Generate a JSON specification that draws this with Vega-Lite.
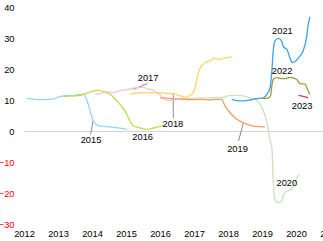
{
  "$schema": "https://vega.github.io/schema/vega-lite/v6.json",
  "width": 306,
  "height": 217,
  "autosize": {"type": "none"},
  "padding": {"left": 24, "top": 7, "right": 0, "bottom": 17},
  "config": {"view": {"stroke": null}, "font": "Liberation Sans", "axis": {"labelFont": "Liberation Sans", "labelFontSize": 9.3}},
  "datasets": {
    "series": [
      {"s": "2015", "x": 2012.08, "y": 10.5}, {"s": "2015", "x": 2012.47, "y": 10.1}, {"s": "2015", "x": 2012.85, "y": 10.3},
      {"s": "2015", "x": 2013.06, "y": 11.1}, {"s": "2015", "x": 2013.3, "y": 11.5}, {"s": "2015", "x": 2013.44, "y": 11.3},
      {"s": "2015", "x": 2013.6, "y": 11.8}, {"s": "2015", "x": 2013.69, "y": 11.6}, {"s": "2015", "x": 2013.74, "y": 12.0},
      {"s": "2015", "x": 2013.84, "y": 10.2}, {"s": "2015", "x": 2013.92, "y": 7.5}, {"s": "2015", "x": 2013.97, "y": 5.4},
      {"s": "2015", "x": 2014.04, "y": 3.2}, {"s": "2015", "x": 2014.12, "y": 2.2}, {"s": "2015", "x": 2014.24, "y": 1.6},
      {"s": "2015", "x": 2014.53, "y": 1.3}, {"s": "2015", "x": 2014.82, "y": 0.9}, {"s": "2015", "x": 2015.03, "y": 0.5},

      {"s": "2016", "x": 2013.16, "y": 11.1}, {"s": "2016", "x": 2013.44, "y": 11.3}, {"s": "2016", "x": 2013.65, "y": 11.5},
      {"s": "2016", "x": 2013.79, "y": 12.0}, {"s": "2016", "x": 2013.99, "y": 12.7}, {"s": "2016", "x": 2014.19, "y": 13.2},
      {"s": "2016", "x": 2014.32, "y": 12.7}, {"s": "2016", "x": 2014.53, "y": 11.9}, {"s": "2016", "x": 2014.73, "y": 9.7},
      {"s": "2016", "x": 2014.82, "y": 8.6}, {"s": "2016", "x": 2014.97, "y": 6.5}, {"s": "2016", "x": 2015.07, "y": 4.3},
      {"s": "2016", "x": 2015.13, "y": 3.0}, {"s": "2016", "x": 2015.21, "y": 1.6}, {"s": "2016", "x": 2015.41, "y": 1.0},
      {"s": "2016", "x": 2015.61, "y": 0.5}, {"s": "2016", "x": 2015.79, "y": 0.9}, {"s": "2016", "x": 2015.94, "y": 1.3},
      {"s": "2016", "x": 2016.09, "y": 1.9},

      {"s": "2017", "x": 2014.09, "y": 12.1}, {"s": "2017", "x": 2014.24, "y": 12.0}, {"s": "2017", "x": 2014.43, "y": 12.7},
      {"s": "2017", "x": 2014.62, "y": 12.4}, {"s": "2017", "x": 2014.82, "y": 13.0}, {"s": "2017", "x": 2015.06, "y": 13.4},
      {"s": "2017", "x": 2015.31, "y": 14.0}, {"s": "2017", "x": 2015.51, "y": 14.1}, {"s": "2017", "x": 2015.65, "y": 13.5},
      {"s": "2017", "x": 2015.8, "y": 13.2}, {"s": "2017", "x": 2015.91, "y": 12.1}, {"s": "2017", "x": 2016.0, "y": 11.6},
      {"s": "2017", "x": 2016.09, "y": 10.6}, {"s": "2017", "x": 2016.2, "y": 9.9}, {"s": "2017", "x": 2016.29, "y": 9.8},
      {"s": "2017", "x": 2016.47, "y": 10.3}, {"s": "2017", "x": 2016.74, "y": 10.6}, {"s": "2017", "x": 2017.03, "y": 10.3},
      {"s": "2017", "x": 2017.18, "y": 10.2},

      {"s": "2018", "x": 2015.12, "y": 11.9}, {"s": "2018", "x": 2015.31, "y": 12.2}, {"s": "2018", "x": 2015.51, "y": 12.4},
      {"s": "2018", "x": 2015.71, "y": 12.4}, {"s": "2018", "x": 2016.0, "y": 12.4}, {"s": "2018", "x": 2016.21, "y": 12.1},
      {"s": "2018", "x": 2016.38, "y": 12.0}, {"s": "2018", "x": 2016.53, "y": 11.6}, {"s": "2018", "x": 2016.68, "y": 11.1},
      {"s": "2018", "x": 2016.76, "y": 10.8}, {"s": "2018", "x": 2016.85, "y": 11.3}, {"s": "2018", "x": 2016.94, "y": 11.9},
      {"s": "2018", "x": 2017.0, "y": 12.9}, {"s": "2018", "x": 2017.06, "y": 15.5}, {"s": "2018", "x": 2017.13, "y": 18.7},
      {"s": "2018", "x": 2017.18, "y": 20.3}, {"s": "2018", "x": 2017.27, "y": 21.5}, {"s": "2018", "x": 2017.37, "y": 22.3},
      {"s": "2018", "x": 2017.47, "y": 22.6}, {"s": "2018", "x": 2017.59, "y": 23.4}, {"s": "2018", "x": 2017.76, "y": 23.1},
      {"s": "2018", "x": 2017.88, "y": 23.5}, {"s": "2018", "x": 2017.97, "y": 23.6}, {"s": "2018", "x": 2018.11, "y": 23.9},

      {"s": "2019", "x": 2016.0, "y": 10.7}, {"s": "2019", "x": 2016.15, "y": 10.6}, {"s": "2019", "x": 2016.38, "y": 10.4},
      {"s": "2019", "x": 2016.59, "y": 10.3}, {"s": "2019", "x": 2016.88, "y": 10.1}, {"s": "2019", "x": 2017.18, "y": 10.2},
      {"s": "2019", "x": 2017.47, "y": 10.0}, {"s": "2019", "x": 2017.65, "y": 10.2}, {"s": "2019", "x": 2017.81, "y": 10.2},
      {"s": "2019", "x": 2017.91, "y": 8.1}, {"s": "2019", "x": 2018.06, "y": 5.9}, {"s": "2019", "x": 2018.26, "y": 3.8},
      {"s": "2019", "x": 2018.5, "y": 2.4}, {"s": "2019", "x": 2018.74, "y": 1.6}, {"s": "2019", "x": 2018.94, "y": 1.4},
      {"s": "2019", "x": 2019.09, "y": 1.3},

      {"s": "2020", "x": 2016.88, "y": 10.5}, {"s": "2020", "x": 2017.18, "y": 10.6}, {"s": "2020", "x": 2017.47, "y": 10.7},
      {"s": "2020", "x": 2017.85, "y": 10.8}, {"s": "2020", "x": 2018.0, "y": 11.3}, {"s": "2020", "x": 2018.15, "y": 11.5},
      {"s": "2020", "x": 2018.35, "y": 11.5}, {"s": "2020", "x": 2018.65, "y": 10.7}, {"s": "2020", "x": 2018.79, "y": 10.2},
      {"s": "2020", "x": 2018.89, "y": 9.5}, {"s": "2020", "x": 2019.04, "y": 6.5}, {"s": "2020", "x": 2019.15, "y": 2.5},
      {"s": "2020", "x": 2019.24, "y": -3.2}, {"s": "2020", "x": 2019.29, "y": -5.4}, {"s": "2020", "x": 2019.33, "y": -16.1},
      {"s": "2020", "x": 2019.38, "y": -22.0}, {"s": "2020", "x": 2019.48, "y": -23.1}, {"s": "2020", "x": 2019.58, "y": -22.6},
      {"s": "2020", "x": 2019.63, "y": -20.6}, {"s": "2020", "x": 2019.73, "y": -19.4}, {"s": "2020", "x": 2019.82, "y": -19.2},
      {"s": "2020", "x": 2019.92, "y": -17.7}, {"s": "2020", "x": 2020.02, "y": -15.2}, {"s": "2020", "x": 2020.1, "y": -14.0},

      {"s": "2021", "x": 2018.11, "y": 10.2}, {"s": "2021", "x": 2018.26, "y": 9.8}, {"s": "2021", "x": 2018.44, "y": 9.7},
      {"s": "2021", "x": 2018.65, "y": 10.0}, {"s": "2021", "x": 2018.82, "y": 10.4}, {"s": "2021", "x": 2019.04, "y": 10.7},
      {"s": "2021", "x": 2019.14, "y": 11.8}, {"s": "2021", "x": 2019.24, "y": 14.0}, {"s": "2021", "x": 2019.29, "y": 19.4},
      {"s": "2021", "x": 2019.33, "y": 25.8}, {"s": "2021", "x": 2019.38, "y": 29.0}, {"s": "2021", "x": 2019.48, "y": 29.9},
      {"s": "2021", "x": 2019.58, "y": 29.0}, {"s": "2021", "x": 2019.63, "y": 27.1}, {"s": "2021", "x": 2019.73, "y": 26.4},
      {"s": "2021", "x": 2019.82, "y": 23.6}, {"s": "2021", "x": 2019.9, "y": 22.1}, {"s": "2021", "x": 2019.97, "y": 22.4},
      {"s": "2021", "x": 2020.12, "y": 24.2}, {"s": "2021", "x": 2020.21, "y": 25.8}, {"s": "2021", "x": 2020.31, "y": 30.1},
      {"s": "2021", "x": 2020.36, "y": 34.4}, {"s": "2021", "x": 2020.41, "y": 36.8},

      {"s": "2022", "x": 2019.0, "y": 10.5}, {"s": "2022", "x": 2019.18, "y": 10.6}, {"s": "2022", "x": 2019.25, "y": 11.3},
      {"s": "2022", "x": 2019.29, "y": 14.5}, {"s": "2022", "x": 2019.33, "y": 16.7}, {"s": "2022", "x": 2019.43, "y": 17.2},
      {"s": "2022", "x": 2019.58, "y": 16.9}, {"s": "2022", "x": 2019.73, "y": 17.0}, {"s": "2022", "x": 2019.82, "y": 17.3},
      {"s": "2022", "x": 2019.92, "y": 17.1}, {"s": "2022", "x": 2020.02, "y": 16.6}, {"s": "2022", "x": 2020.12, "y": 15.3},
      {"s": "2022", "x": 2020.26, "y": 15.1}, {"s": "2022", "x": 2020.36, "y": 12.9}, {"s": "2022", "x": 2020.41, "y": 11.8},

      {"s": "2023", "x": 2020.07, "y": 11.5}, {"s": "2023", "x": 2020.21, "y": 11.2}, {"s": "2023", "x": 2020.36, "y": 10.7}
    ],
    "labels": [
      {"label": "2015", "x": 2013.97, "y": -2.9},
      {"label": "2016", "x": 2015.49, "y": -1.9},
      {"label": "2017", "x": 2015.65, "y": 17.1},
      {"label": "2018", "x": 2016.38, "y": 2.3},
      {"label": "2019", "x": 2018.28, "y": -5.8},
      {"label": "2020", "x": 2019.73, "y": -16.7},
      {"label": "2021", "x": 2019.6, "y": 32.4},
      {"label": "2022", "x": 2019.59, "y": 19.5},
      {"label": "2023", "x": 2020.18, "y": 8.1}
    ],
    "leaders": [
      {"x": 2014.03, "y": 3.2, "x2": 2013.96, "y2": -1.1},
      {"x": 2015.21, "y": 13.4, "x2": 2015.63, "y2": 15.3},
      {"x": 2016.39, "y": 12.3, "x2": 2016.39, "y2": 4.2},
      {"x": 2018.45, "y": 2.6, "x2": 2018.31, "y2": -3.2}
    ]
  },
  "encoding": {
    "x": {
      "field": "x", "type": "quantitative",
      "scale": {"domain": [2012, 2021], "nice": false, "zero": false},
      "axis": {
        "values": [2012, 2013, 2014, 2015, 2016, 2017, 2018, 2019, 2020, 2021],
        "format": "d", "domain": false, "ticks": false, "grid": false,
        "labelPadding": 5, "labelColor": "#000000", "title": null,
        "labelFlush": false, "labelOverlap": false, "labelBound": false
      }
    },
    "y": {
      "field": "y", "type": "quantitative",
      "scale": {"domain": [-30, 40], "nice": false, "zero": false},
      "axis": {
        "values": [-30, -20, -10, 0, 10, 20, 30, 40],
        "domain": false, "ticks": false, "grid": true,
        "gridColor": {"condition": {"test": "datum.value === 0", "value": "#d4d4d4"}, "value": "transparent"},
        "labelPadding": 10, "title": null,
        "labelColor": {"condition": {"test": "datum.value < 0", "value": "#ff0000"}, "value": "#000000"}
      }
    }
  },
  "layer": [
    {
      "data": {"name": "leaders"},
      "mark": {"type": "rule", "color": "#8c8c8c", "strokeWidth": 1},
      "encoding": {"x2": {"field": "x2"}, "y2": {"field": "y2"}}
    },
    {
      "data": {"name": "series"},
      "mark": {"type": "line", "strokeWidth": 1.3, "interpolate": "monotone"},
      "encoding": {
        "color": {
          "field": "s", "type": "nominal", "legend": null,
          "scale": {
            "domain": ["2015", "2016", "2017", "2018", "2019", "2020", "2021", "2022", "2023"],
            "range": ["#94d5f5", "#c6d84e", "#f5c5d2", "#fdd36b", "#f59b66", "#c9e3bd", "#3ba3ea", "#9c9b3e", "#c9416a"]
          }
        }
      }
    },
    {
      "data": {"name": "labels"},
      "mark": {"type": "text", "fontSize": 9.3, "color": "#000000", "align": "center", "baseline": "middle"},
      "encoding": {"text": {"field": "label"}}
    }
  ]
}
